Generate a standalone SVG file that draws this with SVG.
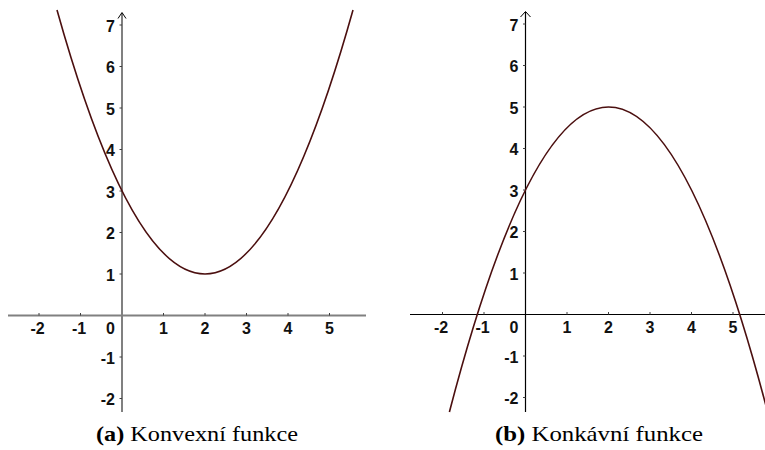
<svg xmlns="http://www.w3.org/2000/svg" width="765" height="450" viewBox="0 0 765 450">
<style>
.lbl{font-family:"Liberation Sans",Arial,sans-serif;font-size:16px;font-weight:bold;fill:#111}
.ly{text-anchor:end}
.lx{text-anchor:middle}
.cap{font-family:"Liberation Serif","Times New Roman",serif;font-size:21px;fill:#000}
.axL{stroke:#808080;stroke-width:2;fill:none}
.axR{stroke:#000;stroke-width:1.2;fill:none}
.tick{stroke:#404040;stroke-width:1;fill:none}
.arr{stroke:#000;stroke-width:1;fill:none}
.curve{stroke:#4b0f0f;stroke-width:1.6;fill:none}
</style>
<rect width="765" height="450" fill="#fff"/>
<g id="plot-a">
  <g id="axes-a">
    <line class="axL" x1="8" y1="315.5" x2="366" y2="315.5"/>
    <line class="axL" x1="122" y1="13" x2="122" y2="412"/>
    <polyline class="arr" points="118,18.5 122,12.5 126,18.5"/>
    <path class="tick" d="M39,315.5v-2.5M80.5,315.5v-2.5M163.5,315.5v-2.5M205,315.5v-2.5M246.5,315.5v-2.5M288,315.5v-2.5M329.5,315.5v-2.5M122,25h-2.5M122,66.5h-2.5M122,108h-2.5M122,149.5h-2.5M122,191h-2.5M122,232.5h-2.5M122,274h-2.5M122,357h-2.5M122,398.5h-2.5"/>
  </g>
  <g id="labels-a" class="lbl">
    <text class="ly" x="115" y="31.5">7</text>
    <text class="ly" x="115" y="73">6</text>
    <text class="ly" x="115" y="114.5">5</text>
    <text class="ly" x="115" y="156">4</text>
    <text class="ly" x="115" y="197.5">3</text>
    <text class="ly" x="115" y="239">2</text>
    <text class="ly" x="115" y="280.5">1</text>
    <text class="ly" x="115" y="363.5">-1</text>
    <text class="ly" x="115" y="405">-2</text>
    <text class="lx" x="37.5" y="334">-2</text>
    <text class="lx" x="79" y="334">-1</text>
    <text class="ly" x="115" y="334">0</text>
    <text class="lx" x="163.5" y="334">1</text>
    <text class="lx" x="205" y="334">2</text>
    <text class="lx" x="246.5" y="334">3</text>
    <text class="lx" x="288" y="334">4</text>
    <text class="lx" x="329.5" y="334">5</text>
  </g>
  <path id="curve-a" class="curve" d="M57,10 Q205,537.9 353,10"/>
  <text id="caption-a" class="cap" x="96" y="441" textLength="202" lengthAdjust="spacingAndGlyphs"><tspan font-weight="bold">(a)</tspan> Konvexní funkce</text>
</g>
<g id="plot-b">
  <g id="axes-b">
    <line class="axR" x1="410" y1="314.5" x2="765" y2="314.5"/>
    <line class="axR" x1="525.5" y1="12" x2="525.5" y2="412"/>
    <polyline class="arr" points="520.5,17 525.5,11.5 530.5,17"/>
    <path class="tick" d="M442.5,314.5v-2.5M484,314.5v-2.5M567,314.5v-2.5M608.5,314.5v-2.5M650,314.5v-2.5M691.5,314.5v-2.5M733,314.5v-2.5M525.5,24h-2.5M525.5,65.5h-2.5M525.5,107h-2.5M525.5,148.5h-2.5M525.5,190h-2.5M525.5,231.5h-2.5M525.5,273h-2.5M525.5,356h-2.5M525.5,397.5h-2.5"/>
  </g>
  <g id="labels-b" class="lbl">
    <text class="ly" x="518.5" y="30.5">7</text>
    <text class="ly" x="518.5" y="72">6</text>
    <text class="ly" x="518.5" y="113.5">5</text>
    <text class="ly" x="518.5" y="155">4</text>
    <text class="ly" x="518.5" y="196.5">3</text>
    <text class="ly" x="518.5" y="238">2</text>
    <text class="ly" x="518.5" y="279.5">1</text>
    <text class="ly" x="518.5" y="362.5">-1</text>
    <text class="ly" x="518.5" y="404">-2</text>
    <text class="lx" x="441" y="333">-2</text>
    <text class="lx" x="482.5" y="333">-1</text>
    <text class="ly" x="518.5" y="333">0</text>
    <text class="lx" x="567" y="333">1</text>
    <text class="lx" x="608.5" y="333">2</text>
    <text class="lx" x="650" y="333">3</text>
    <text class="lx" x="691.5" y="333">4</text>
    <text class="lx" x="733" y="333">5</text>
  </g>
  <path id="curve-b" class="curve" d="M449.4,412 Q608.5,-198 767.6,412"/>
  <text id="caption-b" class="cap" x="495" y="441" textLength="208" lengthAdjust="spacingAndGlyphs"><tspan font-weight="bold">(b)</tspan> Konkávní funkce</text>
</g>
</svg>
